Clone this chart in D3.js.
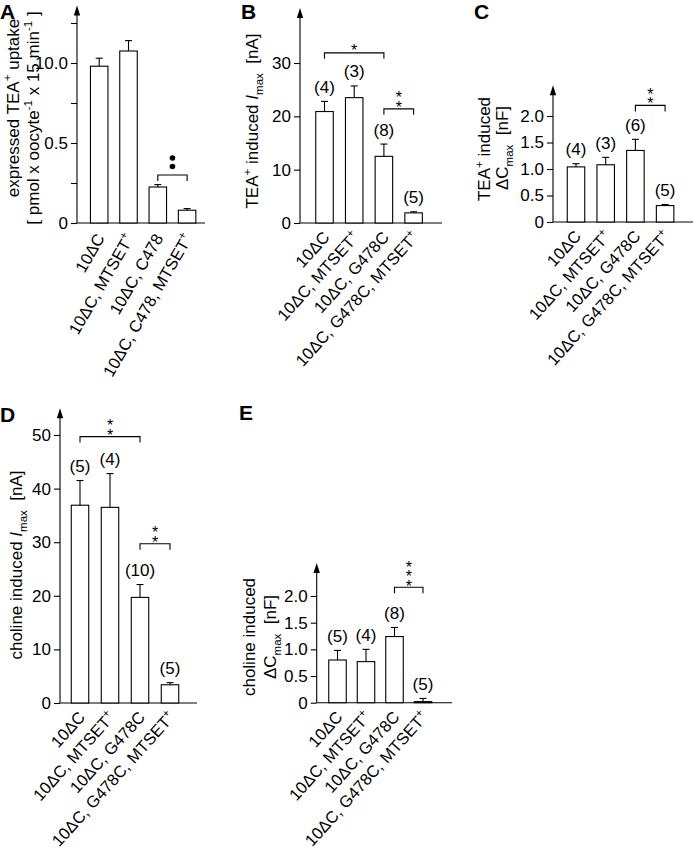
<!DOCTYPE html>
<html>
<head>
<meta charset="utf-8">
<script src="https://cdn.jsdelivr.net/npm/d3@7"></script>
<style>
  body { margin: 0; background: #fff; }
  svg { display: block; }
  .stars { writing-mode: vertical-rl; text-orientation: upright; }
</style>
</head>
<body>
<script>
// ---------------- DATA ----------------
const catsA = ["10ΔC", "10ΔC, MTSET+", "10ΔC, C478", "10ΔC, C478, MTSET+"];
const catsG = ["10ΔC", "10ΔC, MTSET+", "10ΔC, G478C", "10ΔC, G478C, MTSET+"];

const valuesA = [0.98, 1.075, 0.225, 0.08];
const errA    = [0.05, 0.065, 0.015, 0.01];

const valuesB = [20.9, 23.5, 12.5, 1.9];
const errB    = [1.9, 2.2, 2.3, 0.2];
const nB      = ["(4)", "(3)", "(8)", "(5)"];

const valuesC = [1.04, 1.08, 1.35, 0.31];
const errC    = [0.06, 0.14, 0.21, 0.02];
const nC      = ["(4)", "(3)", "(6)", "(5)"];

const valuesD = [36.9, 36.5, 19.7, 3.4];
const errD    = [4.6, 6.3, 2.4, 0.4];
const nD      = ["(5)", "(4)", "(10)", "(5)"];

const valuesE = [0.80, 0.77, 1.24, 0.02];
const errE    = [0.18, 0.23, 0.17, 0.06];
const nE      = ["(5)", "(4)", "(8)", "(5)"];

const ticksA = [0, 0.5, 1.0];
const tickLabelsA = ["0", "0.5", "10.0"];
const minorTicksA = [0.25, 0.75, 1.25];
const ticksB = [0, 10, 20, 30];
const tickLabelsB = ["0", "10", "20", "30"];
const ticksC = [0, 0.5, 1.0, 1.5, 2.0];
const tickLabelsC = ["0", "0.5", "1.0", "1.5", "2.0"];
const ticksD = [0, 10, 20, 30, 40, 50];
const tickLabelsD = ["0", "10", "20", "30", "40", "50"];
const ticksE = [0, 0.5, 1.0, 1.5, 2.0];
const tickLabelsE = ["0", "0.5", "1.0", "1.5", "2.0"];

// significance brackets: from bar index, to bar index, bracket level (data units), mark
const sigA = [{ from: 2, to: 3, level: 0.30, mark: "dots", count: 2 }];
const sigB = [{ from: 0, to: 2, level: 31.9, mark: "*" },
              { from: 2, to: 3, level: 21.4, mark: "**" }];
const sigC = [{ from: 2, to: 3, level: 2.20, mark: "**" }];
const sigD = [{ from: 0, to: 2, level: 49.7, mark: "**" },
              { from: 2, to: 3, level: 29.7, mark: "**" }];
const sigE = [{ from: 2, to: 3, level: 2.165, mark: "***" }];

// ---------------- DRAW ----------------
const FONT = "'Liberation Sans', Arial, Helvetica, sans-serif";
const FS = 17;
const svg = d3.select("body").append("svg")
  .attr("width", 693).attr("height", 851)
  .style("font-family", FONT);

function rich(textSel, parts, fs) {
  let shift = 0;
  parts.forEach(p => {
    const target = p.sup ? -0.42 * fs : (p.sub ? 0.28 * fs : 0);
    const t = textSel.append("tspan").text(p.t);
    if (target - shift !== 0) t.attr("dy", target - shift);
    shift = target;
    if (p.sup || p.sub) t.attr("font-size", fs * 0.68);
    if (p.italic) t.attr("font-style", "italic");
  });
}

function catParts(label) {
  if (label.endsWith("+")) return [{ t: label.slice(0, -1) }, { t: "+", sup: true }];
  return [{ t: label }];
}

function drawPanel(cfg) {
  const g = svg.append("g");
  const y = d3.scaleLinear().domain(cfg.yDomain).range(cfg.yRange);
  const x0 = cfg.first - cfg.pitch / 2;
  const x = d3.scaleBand().domain(cfg.cats).range([x0, x0 + cfg.cats.length * cfg.pitch]);
  const cx = c => x(c) + x.bandwidth() / 2;
  const base = y(0);
  const bw = 17.5;

  // y axis line + arrow
  const topY = y(cfg.yTop);
  g.append("line").attr("x1", cfg.axisX).attr("x2", cfg.axisX)
    .attr("y1", base).attr("y2", topY + 4).attr("stroke", "#000").attr("stroke-width", 1.1);
  g.append("path")
    .attr("d", `M${cfg.axisX},${topY} L${cfg.axisX - 3.2},${topY + 10} L${cfg.axisX + 3.2},${topY + 10} Z`)
    .attr("fill", "#000");

  // x axis line
  g.append("line").attr("x1", cfg.axisX).attr("x2", cfg.xEnd)
    .attr("y1", base).attr("y2", base).attr("stroke", "#000").attr("stroke-width", 1.1);

  // y ticks
  const ax = g.append("g").attr("transform", `translate(${cfg.axisX},0)`)
    .call(d3.axisLeft(y).tickValues(cfg.ticks).tickFormat((d, i) => cfg.tickLabels[i])
      .tickSize(6).tickPadding(3));
  ax.select(".domain").remove();
  ax.selectAll("line").attr("stroke-width", 1.1);
  ax.selectAll("text").attr("font-size", FS).attr("font-family", FONT).attr("fill", "#000");
  if (cfg.minor) {
    const mx = g.append("g").attr("transform", `translate(${cfg.axisX},0)`)
      .call(d3.axisLeft(y).tickValues(cfg.minor).tickFormat("").tickSize(6));
    mx.select(".domain").remove();
    mx.selectAll("line").attr("stroke-width", 1.1);
  }

  // bars
  cfg.cats.forEach((c, i) => {
    const v = cfg.values[i], e = cfg.err[i];
    g.append("rect").attr("x", cx(c) - bw / 2).attr("y", y(v))
      .attr("width", bw).attr("height", base - y(v))
      .attr("fill", "#fff").attr("stroke", "#000").attr("stroke-width", 1.1);
    g.append("line").attr("x1", cx(c)).attr("x2", cx(c))
      .attr("y1", y(v)).attr("y2", y(v + e)).attr("stroke", "#000").attr("stroke-width", 1.1);
    g.append("line").attr("x1", cx(c) - 3.5).attr("x2", cx(c) + 3.5)
      .attr("y1", y(v + e)).attr("y2", y(v + e)).attr("stroke", "#000").attr("stroke-width", 1.1);
    if (cfg.n) {
      g.append("text").attr("x", cx(c)).attr("y", y(v + e) - 8.5)
        .attr("text-anchor", "middle").attr("font-size", FS).text(cfg.n[i]);
    }
    // category label
    const t = g.append("text")
      .attr("transform", `translate(${cx(c) + 6},${base + 15}) rotate(${cfg.rot})`)
      .attr("text-anchor", "end").attr("font-size", 16.5);
    rich(t, catParts(c), 16.5);
  });

  // significance brackets
  (cfg.sig || []).forEach(s => {
    const xa = cx(cfg.cats[s.from]), xb = cx(cfg.cats[s.to]);
    const yl = y(s.level);
    g.append("path").attr("d", `M${xa},${yl + 6} L${xa},${yl} L${xb},${yl} L${xb},${yl + 6}`)
      .attr("fill", "none").attr("stroke", "#000").attr("stroke-width", 1.1);
    const mid = (xa + xb) / 2;
    if (s.mark === "dots") {
      for (let k = 0; k < s.count; k++) {
        g.append("circle").attr("cx", mid).attr("cy", yl - 8.5 - k * 8.5).attr("r", 2.8).attr("fill", "#000");
      }
    } else {
      // stacked asterisks written as one vertical column of text
      const fsS = 16;
      const n = s.mark.length;
      const inkCenter = yl - 8.5 - (n - 1) * 8.5 / 2;
      g.append("text").attr("class", "stars")
        .attr("x", mid).attr("y", inkCenter + 2.8)
        .attr("text-anchor", "middle").attr("font-size", fsS)
        .attr("letter-spacing", -7.5)
        .text(s.mark);
    }
  });

  // y title lines
  cfg.titles.forEach(tl => {
    const t = g.append("text")
      .attr("transform", `translate(${tl.x},${tl.y}) rotate(-90)`)
      .attr("text-anchor", "middle").attr("font-size", FS)
      .style("white-space", "pre");
    rich(t, tl.parts, FS);
  });

  // panel letter
  svg.append("text").attr("x", cfg.letter.x).attr("y", cfg.letter.y)
    .attr("font-size", 21).attr("font-weight", "bold").text(cfg.letter.t);
}

drawPanel({
  cats: catsA, values: valuesA, err: errA, n: null, rot: -60,
  yDomain: [0, 1.0], yRange: [223, 63], yTop: 1.36,
  ticks: ticksA, tickLabels: tickLabelsA, minor: minorTicksA,
  axisX: 77, xEnd: 205, first: 99.2, pitch: 29.3, sig: sigA,
  titles: [
    { x: 18.5, y: 108, parts: [{ t: "expressed TEA" }, { t: "+", sup: true }, { t: " uptake" }] },
    { x: 39, y: 118, parts: [{ t: "[ pmol x oocyte" }, { t: "-1", sup: true }, { t: " x 15 min" }, { t: "-1", sup: true }, { t: " ]" }] }
  ],
  letter: { t: "A", x: 0, y: 19 }
});

drawPanel({
  cats: catsG, values: valuesB, err: errB, n: nB, rot: -48,
  yDomain: [0, 30], yRange: [223, 63], yTop: 40.3,
  ticks: ticksB, tickLabels: tickLabelsB,
  axisX: 300, xEnd: 442, first: 324.5, pitch: 29.7, sig: sigB,
  titles: [
    { x: 258, y: 121, parts: [{ t: "TEA" }, { t: "+", sup: true }, { t: " induced " }, { t: "I", italic: true }, { t: "max", sub: true }, { t: "  [nA]" }] }
  ],
  letter: { t: "B", x: 241, y: 19 }
});

drawPanel({
  cats: catsG, values: valuesC, err: errC, n: nC, rot: -48,
  yDomain: [0, 2.0], yRange: [222, 116], yTop: 2.58,
  ticks: ticksC, tickLabels: tickLabelsC,
  axisX: 553, xEnd: 693, first: 576, pitch: 29.7, sig: sigC,
  titles: [
    { x: 490, y: 149, parts: [{ t: "TEA" }, { t: "+", sup: true }, { t: " induced" }] },
    { x: 508, y: 148, parts: [{ t: "ΔC" }, { t: "max", sub: true }, { t: "  [nF]" }] }
  ],
  letter: { t: "C", x: 474, y: 19 }
});

drawPanel({
  cats: catsG, values: valuesD, err: errD, n: nD, rot: -48,
  yDomain: [0, 50], yRange: [703, 435], yTop: 55,
  ticks: ticksD, tickLabels: tickLabelsD,
  axisX: 60, xEnd: 197, first: 80, pitch: 30, sig: sigD,
  titles: [
    { x: 22, y: 565, parts: [{ t: "choline induced " }, { t: "I", italic: true }, { t: "max", sub: true }, { t: "  [nA]" }] }
  ],
  letter: { t: "D", x: 0, y: 422 }
});

drawPanel({
  cats: catsG, values: valuesE, err: errE, n: nE, rot: -48,
  yDomain: [0, 2.0], yRange: [702.7, 596], yTop: 2.62,
  ticks: ticksE, tickLabels: tickLabelsE,
  axisX: 316.7, xEnd: 452, first: 337.5, pitch: 28.5, sig: sigE,
  titles: [
    { x: 255, y: 637, parts: [{ t: "choline induced" }] },
    { x: 276, y: 637, parts: [{ t: "ΔC" }, { t: "max", sub: true }, { t: "  [nF]" }] }
  ],
  letter: { t: "E", x: 239, y: 420 }
});
</script>
</body>
</html>
